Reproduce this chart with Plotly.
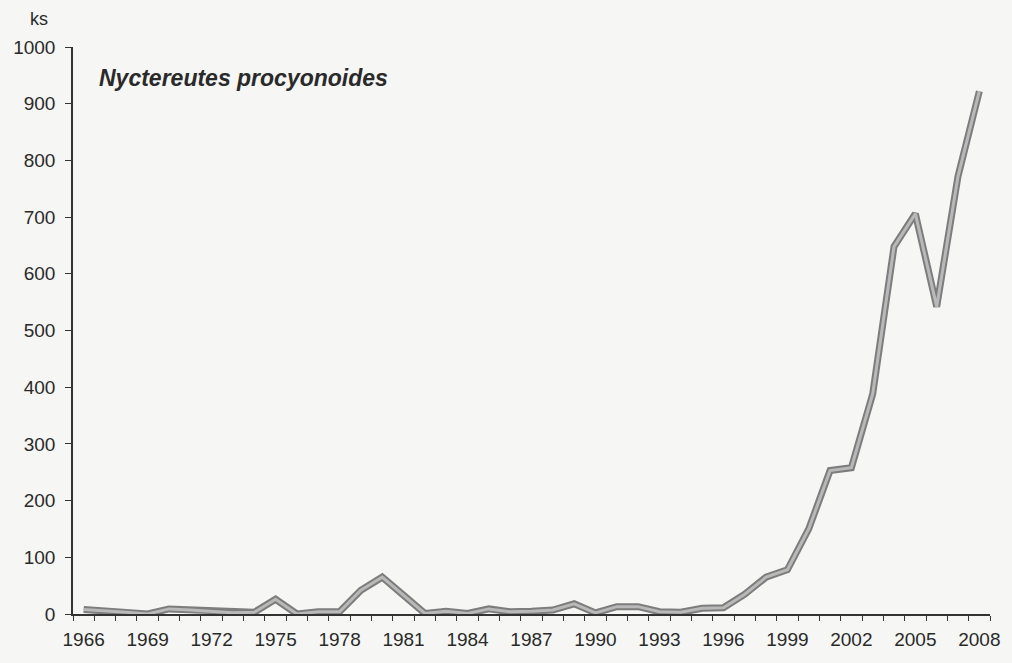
import plotly.graph_objects as go

# Annual counts of the raccoon dog (Nyctereutes procyonoides), pieces per year
years = list(range(1966, 2009))
counts = [8, 6, 3, 0, 9, 7, 4, 2, 3, 26,
          0, 4, 4, 42, 65, 33, 1, 5, 1, 9,
          4, 5, 7, 18, 2, 13, 13, 4, 3, 10,
          11, 35, 65, 78, 150, 253, 258, 388, 648, 706,
          542, 772, 922]

label_years = list(range(1966, 2009, 3))
y_ticks = list(range(0, 1001, 100))

FONT = "Liberation Sans, Arial, sans-serif"
INK = "#2a2a2a"

fig = go.Figure()

# double stroke: dark outer band with a lighter core
fig.add_trace(go.Scatter(
    x=years, y=counts, mode="lines",
    line=dict(color="#7d7d7d", width=7),
    hoverinfo="skip", showlegend=False,
))
fig.add_trace(go.Scatter(
    x=years, y=counts, mode="lines",
    line=dict(color="#b9b9b9", width=3),
    showlegend=False,
))

fig.update_layout(
    width=1012, height=663,
    margin=dict(l=73, r=18, t=47, b=49),
    paper_bgcolor="#f6f6f5",
    plot_bgcolor="rgba(0,0,0,0)",
    font=dict(family=FONT, size=19, color=INK),
    xaxis=dict(
        range=[1965.5, 2008.5],
        tickmode="array", tickvals=label_years,
        ticktext=[str(y) for y in label_years],
        ticks="", showgrid=False, zeroline=False,
        showline=True, linecolor="#333333", linewidth=1.5,
        ticklabelstandoff=7,
        minor=dict(
            tickmode="array",
            tickvals=[y - 0.5 for y in years] + [years[-1] + 0.5],
            ticks="outside", ticklen=5, tickcolor="#333333", tickwidth=1.3,
            showgrid=False,
        ),
        tickfont=dict(family=FONT, size=19, color=INK),
    ),
    yaxis=dict(
        range=[0, 1000],
        tickmode="array", tickvals=y_ticks,
        ticks="outside", ticklen=6, tickcolor="#333333", tickwidth=1.3,
        showgrid=False, zeroline=False,
        showline=True, linecolor="#333333", linewidth=1.5,
        ticklabelstandoff=6,
        tickfont=dict(family=FONT, size=19, color=INK),
    ),
)

fig.add_annotation(
    text="ks", xref="paper", yref="paper",
    x=-0.037, y=1.05, xanchor="center", yanchor="middle",
    showarrow=False, font=dict(family=FONT, size=18, color=INK),
)
fig.add_annotation(
    text="<b><i>Nyctereutes procyonoides</i></b>",
    xref="paper", yref="paper",
    x=0.026, y=0.945, xanchor="left", yanchor="middle",
    showarrow=False, font=dict(family=FONT, size=23, color=INK),
)

fig.write_html("out.html")
